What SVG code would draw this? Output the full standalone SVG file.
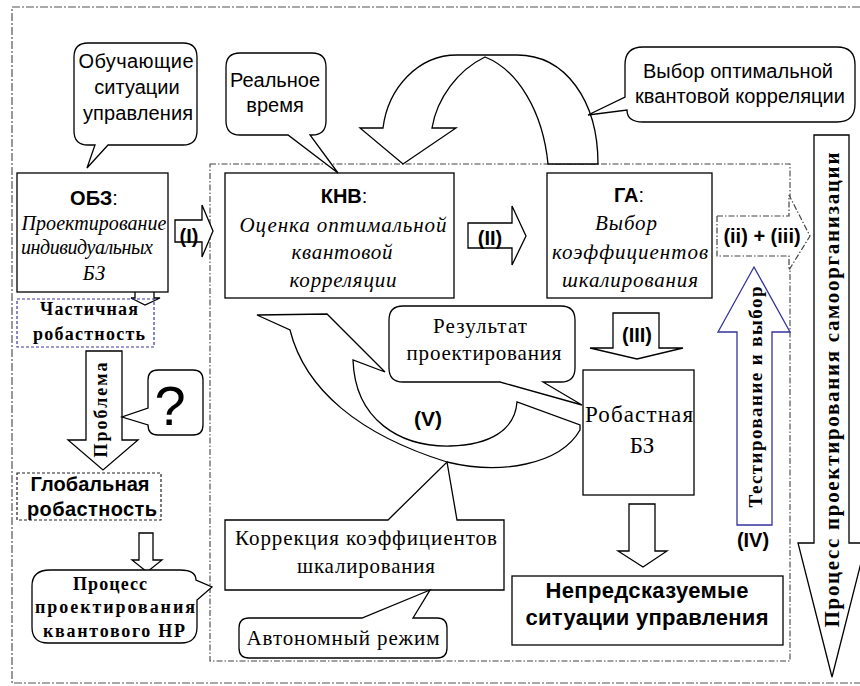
<svg xmlns="http://www.w3.org/2000/svg" width="860" height="686" viewBox="0 0 860 686">
<style>
.ln{fill:#fff;stroke:#000;stroke-width:1.3;stroke-linejoin:miter}
.sans{font-family:"Liberation Sans",Arial,sans-serif}
.serif{font-family:"Liberation Serif","Times New Roman",serif}
.b{font-weight:bold}
.i{font-style:italic}
text{text-anchor:middle;fill:#000}
.frame{fill:none;stroke:#555;stroke-width:1.2;stroke-dasharray:8 2 2 2}
.inner{fill:none;stroke:#444;stroke-width:1.1;stroke-dasharray:6 2 1.5 2}
.dd{fill:#fff;stroke:#444;stroke-width:1.2;stroke-dasharray:6 2 1.5 2}
</style>
<rect width="860" height="686" fill="#fff"/>
<g id="frames">
<path class="frame" d="M860,7 H12 V683 H860"/>
<rect class="inner" x="210" y="164" width="580" height="497"/>
</g>
<g id="connectors">
<path id="arcTop" class="ln" d="M598,164 C598,100 565,55 517,55 L457,55 C418,55 388,88 383,128 L360,128 L403,164 L456,128 L432,128 C437,98 458,70 485,57 C518,70 543,112 548,164 Z"/>
<path id="arcV" class="ln" d="M257,315 L327,314 L385,372 L353,360 C355,420 400,447 450,446 C490,445 515,430 517,402 L580,425 L580,430 C560,465 500,475 447,462 C360,435 305,390 290,330 Z"/>
<path class="ln" d="M175,220 H202 V205 L213,231 L202,257 V242 H175 Z"/>
<path class="ln" d="M468,223 H512 V206 L526,236 L512,265 V248 H468 Z"/>
<path class="dd" d="M717,216 H789 V195 L810,236 L789,270 V256 H717 Z"/>
<path class="ln" d="M613,313 H659 V348 H683 L637,359 L590,348 H613 Z"/>
<path class="ln" d="M629,504 H655 V551 H667 L643,567 L618,551 H629 Z"/>
<path class="ln" d="M135,276 H154 V298 H160 L145,305 L131,298 H135 Z"/>
<path class="ln" d="M86,351 H122 V440 H138 L103,470 L68,440 H86 Z"/>
<path class="ln" d="M139,533 H153 V560 H162 L147,572 L132,560 H139 Z"/>
<path class="ln" style="stroke:#33339a" d="M737,525 V332 H718 L754,267 L790,332 H772 V525 Z"/>
<path class="ln" d="M814,135 H849 V543 H866 L832,677 L798,543 H814 Z"/>
<g class="sans b" font-size="20">
<text x="189" y="243">(I)</text>
<text x="490" y="245">(II)</text>
<text x="762" y="243">(ii) + (iii)</text>
<text x="637" y="342">(III)</text>
<text x="753" y="547">(IV)</text>
<text x="428" y="426" font-size="21">(V)</text>
</g>
<g class="serif b">
<text transform="translate(101,410) rotate(-90)" x="0" y="6" font-size="18" textLength="95" lengthAdjust="spacing">Проблема</text>
<text transform="translate(755,397) rotate(-90)" x="0" y="6.5" font-size="19" textLength="221" lengthAdjust="spacing">Тестирование и выбор</text>
<text transform="translate(832,390) rotate(-90)" x="0" y="7" font-size="21" textLength="475" lengthAdjust="spacing">Процесс проектирования самоорганизации</text>
</g>
</g>
<g id="obz">
<rect class="ln" x="17" y="173" width="151" height="119"/>
<text class="sans b" x="94" y="205" font-size="20">ОБЗ<tspan font-weight="normal">:</tspan></text>
<g class="serif i" font-size="20">
<text x="94" y="230" textLength="145" lengthAdjust="spacing">Проектирование</text>
<text x="87" y="254" textLength="132" lengthAdjust="spacing">индивидуальных</text>
<text x="94" y="280">БЗ</text>
</g>
</g>
<g id="knv">
<rect class="ln" x="225" y="173" width="229" height="125"/>
<text class="sans b" x="344" y="203" font-size="20">КНВ<tspan font-weight="normal">:</tspan></text>
<g class="serif i" font-size="21">
<text x="343" y="232" textLength="207" lengthAdjust="spacing">Оценка оптимальной</text>
<text x="342" y="259" textLength="101" lengthAdjust="spacing">квантовой</text>
<text x="343" y="287" textLength="107" lengthAdjust="spacing">корреляции</text>
</g>
</g>
<g id="ga">
<rect class="ln" x="547" y="173" width="165" height="125"/>
<text class="sans b" x="629" y="202" font-size="20">ГА<tspan font-weight="normal">:</tspan></text>
<g class="serif i" font-size="21">
<text x="626" y="230" textLength="62" lengthAdjust="spacing">Выбор</text>
<text x="630" y="259" textLength="156" lengthAdjust="spacing">коэффициентов</text>
<text x="630" y="287" textLength="136" lengthAdjust="spacing">шкалирования</text>
</g>
</g>
<g id="training">
<path class="ln" d="M88,43 H183 Q197,43 197,57 V131 Q197,145 183,145 H108 L87,168 L95,145 H88 Q74,145 74,131 V57 Q74,43 88,43 Z"/>
<g class="sans" font-size="20">
<text x="136" y="68" textLength="115" lengthAdjust="spacing">Обучающие</text>
<text x="137" y="94">ситуации</text>
<text x="138" y="120" textLength="110" lengthAdjust="spacing">управления</text>
</g>
</g>
<g id="realtime">
<path class="ln" d="M240,53 H312 Q326,53 326,67 V121 Q326,135 312,135 H310 L338,173 L288,135 H240 Q226,135 226,121 V67 Q226,53 240,53 Z"/>
<g class="sans" font-size="20">
<text x="275" y="87">Реальное</text>
<text x="275" y="112">время</text>
</g>
</g>
<g id="choice">
<path class="ln" d="M643,47 H837 Q855,47 855,65 V104 Q855,122 837,122 H643 Q627,122 627,110 L588,115 L625,97 V65 Q625,47 643,47 Z"/>
<g class="sans" font-size="20">
<text x="738" y="78" textLength="190" lengthAdjust="spacing">Выбор оптимальной</text>
<text x="740" y="103" textLength="210" lengthAdjust="spacing">квантовой корреляции</text>
</g>
</g>
<g id="partial">
<rect x="17" y="299" width="137" height="48" fill="none" stroke="#3a3aa0" stroke-width="1.2" stroke-dasharray="3 2"/>
<g class="serif b" font-size="18">
<text x="89" y="315" textLength="98" lengthAdjust="spacing">Частичная</text>
<text x="89" y="340" textLength="112" lengthAdjust="spacing">робастность</text>
</g>
</g>
<g id="question">
<path class="ln" d="M158,370 H193 Q203,370 203,380 V425 Q203,435 193,435 H158 Q148,435 148,425 L122,417 L148,408 V380 Q148,370 158,370 Z"/>
<text class="sans" x="170" y="425" font-size="56">?</text>
</g>
<g id="global">
<rect x="17" y="473" width="144" height="47" fill="#fff" stroke="#222" stroke-width="1.2" stroke-dasharray="3 2"/>
<g class="sans b" font-size="20">
<text x="90" y="491" textLength="119" lengthAdjust="spacing">Глобальная</text>
<text x="92" y="516" textLength="130" lengthAdjust="spacing">робастность</text>
</g>
</g>
<g id="process">
<path class="ln" d="M50,570 H180 Q196,570 196,580 L212,587 L197,600 V627 Q197,643 181,643 H48 Q32,643 32,627 V586 Q32,570 50,570 Z"/>
<g class="serif b" font-size="18">
<text x="110" y="590" textLength="74" lengthAdjust="spacing">Процесс</text>
<text x="115" y="613" textLength="160" lengthAdjust="spacing">проектирования</text>
<text x="114" y="637" textLength="142" lengthAdjust="spacing">квантового НР</text>
</g>
</g>
<g id="result">
<path class="ln" d="M403,306 H561 Q575,306 575,320 V368 Q575,382 561,382 H543 L582,405 L500,382 H403 Q389,382 389,368 V320 Q389,306 403,306 Z"/>
<g class="serif" font-size="21">
<text x="480" y="333" textLength="94" lengthAdjust="spacing">Результат</text>
<text x="484" y="360" textLength="155" lengthAdjust="spacing">проектирования</text>
</g>
</g>
<g id="robust">
<rect class="ln" x="583" y="370" width="111" height="125"/>
<g class="serif" font-size="23">
<text x="639" y="422" textLength="108" lengthAdjust="spacing">Робастная</text>
<text x="642" y="453">БЗ</text>
</g>
</g>
<g id="correction">
<path class="ln" d="M225,520 H388 L447,462 L457,520 H504 V590 H225 Z"/>
<g class="serif" font-size="21">
<text x="366" y="545" textLength="262" lengthAdjust="spacing">Коррекция коэффициентов</text>
<text x="366" y="573" textLength="138" lengthAdjust="spacing">шкалирования</text>
</g>
</g>
<g id="autonomous">
<path class="ln" d="M249,618 H362 L430,590 L413,618 H437 Q447,618 447,628 V648 Q447,658 437,658 H249 Q239,658 239,648 V628 Q239,618 249,618 Z"/>
<text class="serif" x="343" y="645" font-size="21" textLength="193" lengthAdjust="spacing">Автономный режим</text>
</g>
<g id="unpredictable">
<rect class="ln" x="512" y="576" width="271" height="69"/>
<g class="sans b" font-size="22">
<text x="647" y="598" textLength="203" lengthAdjust="spacing">Непредсказуемые</text>
<text x="647" y="625" textLength="243" lengthAdjust="spacing">ситуации управления</text>
</g>
</g>
</svg>
